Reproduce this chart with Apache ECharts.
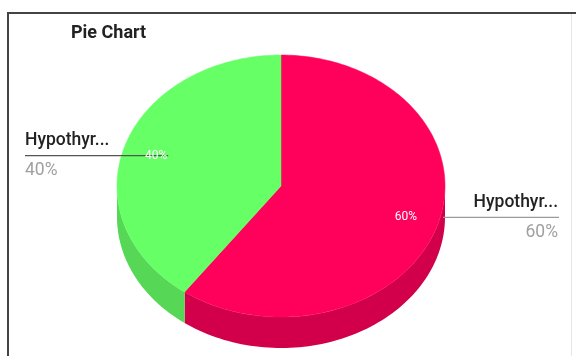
<!DOCTYPE html>
<html>
<head>
<meta charset="utf-8">
<script src="https://cdn.jsdelivr.net/npm/echarts@6/dist/echarts.min.js"></script>
<style>html,body{margin:0;padding:0;background:#fff}#c{width:576px;height:356px}</style>
</head>
<body>
<div id="c"></div>
<script>
const categories = ['Hypothyr...', 'Hypothyr...'];
const values = [60, 40];
const colors = ['#FF005A', '#66FF66'];
const sideColors = ['#D2004B', '#56D856'];

const cx = 281, cy = 186, rx = 164, ry = 131, depth = 31;
const total = values.reduce((a, b) => a + b, 0);
function startAngle(i) { let s = 0; for (let k = 0; k < i; k++) s += values[k]; return s / total * 360; }
function pt(t, dy) { const r = t * Math.PI / 180; return [cx + rx * Math.sin(r), cy - ry * Math.cos(r) + (dy || 0)]; }

function renderSide(params, api) {
  const i = params.dataIndex;
  const v = api.value(0);
  const a0 = startAngle(i), a1 = a0 + v / total * 360;
  const s = Math.max(a0, 90), e = Math.min(a1, 270);
  if (e <= s) return { type: 'group', children: [] };
  const pts = [];
  const N = 80;
  for (let k = 0; k <= N; k++) pts.push(pt(s + (e - s) * k / N));
  for (let k = N; k >= 0; k--) pts.push(pt(s + (e - s) * k / N, depth));
  return { type: 'polygon', shape: { points: pts }, style: { fill: sideColors[i] } };
}

function renderTop(params, api) {
  const i = params.dataIndex;
  const v = api.value(0);
  const a0 = startAngle(i), a1 = a0 + v / total * 360;
  const pts = [[cx, cy]];
  const N = 160;
  for (let k = 0; k <= N; k++) pts.push(pt(a0 + (a1 - a0) * k / N));
  return { type: 'polygon', shape: { points: pts }, style: { fill: colors[i], stroke: colors[i], lineWidth: 0.5 } };
}

function renderLabel(params, api) {
  const i = params.dataIndex;
  const v = api.value(0);
  const a0 = startAngle(i), a1 = a0 + v / total * 360;
  const mid = (a0 + a1) / 2;
  const p = pt(mid);
  const right = Math.sin(mid * Math.PI / 180) > 0;
  const ix = cx + (p[0] - cx) * 0.8, iy = cy + (p[1] - cy) * 0.8 + (right ? -1 : 2);
  const pct = Math.round(v / total * 100) + '%';
  const lx0 = right ? cx + rx - 2 : 25, lx1 = right ? 559 : ix + 12;
  const tx = right ? 558 : 25;
  const align = right ? 'right' : 'left';
  return {
    type: 'group',
    children: [
      { type: 'line', shape: { x1: lx0, y1: iy, x2: lx1, y2: iy }, style: { stroke: right ? '#9a9a9a' : '#555', lineWidth: 1.2 } },
      { type: 'text', style: { x: ix, y: iy, text: pct, fill: '#fff', font: '12px Roboto, sans-serif', align: 'center', verticalAlign: 'middle' } },
      { type: 'text', style: { x: tx, y: iy - 15, text: categories[i], fill: '#222', font: '500 17.5px Roboto, sans-serif', align: align, verticalAlign: 'middle' } },
      { type: 'text', style: { x: tx, y: iy + 15, text: pct, fill: '#a0a0a0', font: '17.5px Roboto, sans-serif', align: align, verticalAlign: 'middle' } }
    ]
  };
}

const chart = echarts.init(document.getElementById('c'), null, { renderer: 'canvas' });
chart.setOption({
  animation: false,
  title: { text: 'Pie Chart', left: 66, top: 19, textStyle: { fontFamily: 'Roboto, sans-serif', fontSize: 18, fontWeight: 'bold', color: '#222' } },
  graphic: [
    { type: 'line', shape: { x1: 7, y1: 13, x2: 576, y2: 13 }, style: { stroke: '#444', lineWidth: 2 }, z: 10 },
    { type: 'line', shape: { x1: 8, y1: 12, x2: 8, y2: 356 }, style: { stroke: '#444', lineWidth: 2 }, z: 10 },
    { type: 'line', shape: { x1: 571.5, y1: 14, x2: 571.5, y2: 356 }, style: { stroke: '#e6e6e6', lineWidth: 1 }, z: 10 }
  ],
  series: [
    { type: 'custom', coordinateSystem: 'none', renderItem: renderSide, data: values, z: 1, silent: true },
    { type: 'custom', coordinateSystem: 'none', renderItem: renderTop, data: values, z: 2, silent: true },
    { type: 'custom', coordinateSystem: 'none', renderItem: renderLabel, data: values, z: 3, silent: true }
  ]
});
</script>
</body>
</html>
